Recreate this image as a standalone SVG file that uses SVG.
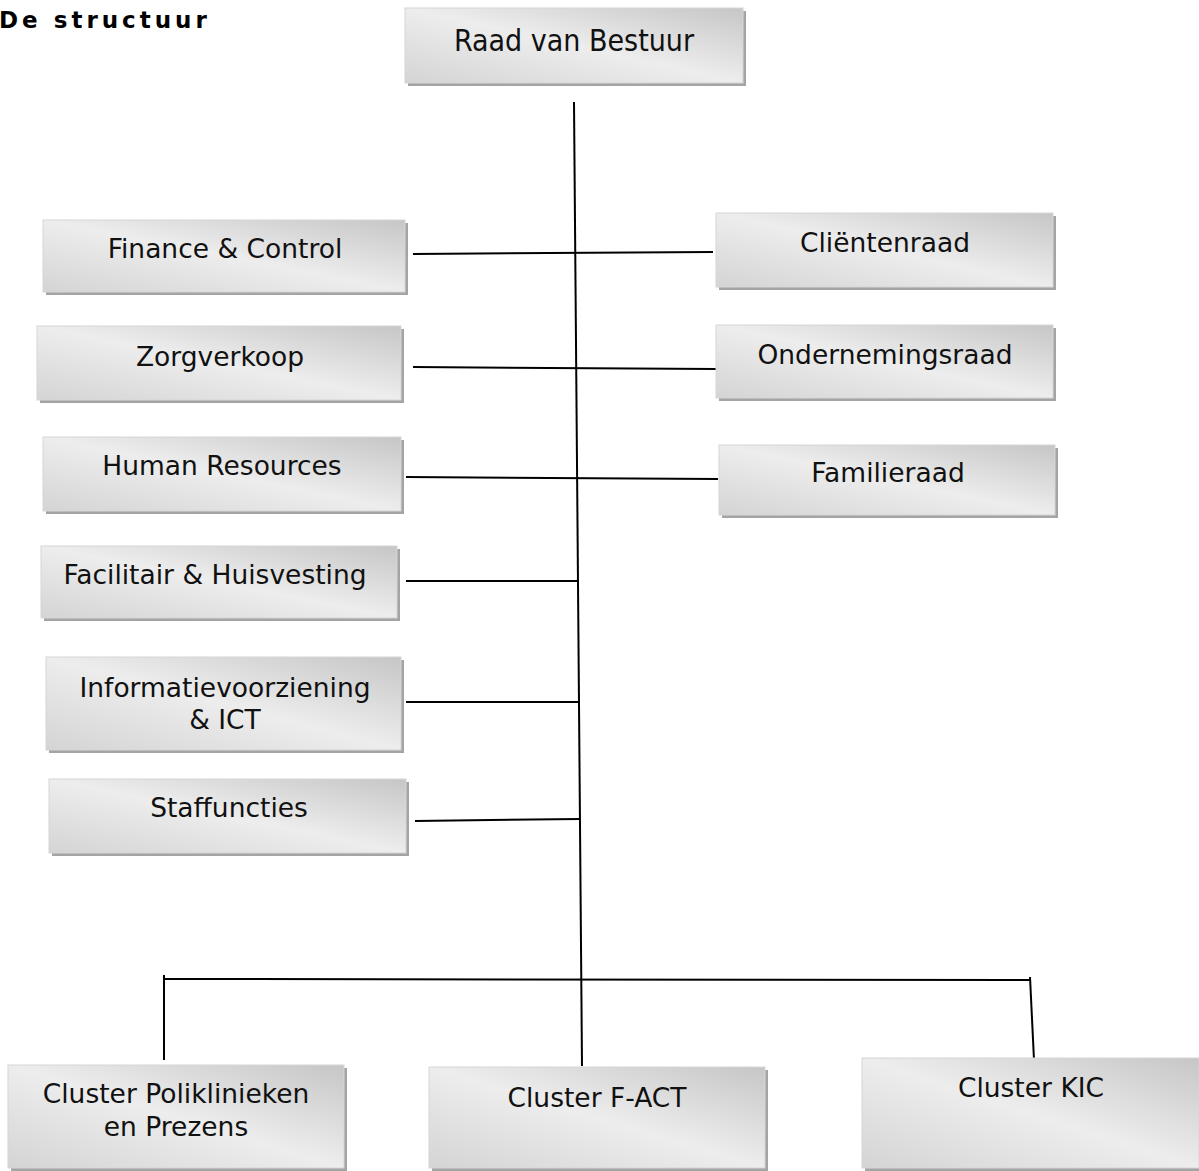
<svg xmlns="http://www.w3.org/2000/svg" width="1199" height="1171" viewBox="0 0 1199 1171">
<defs>
<linearGradient id="g" x1="1" y1="0" x2="0" y2="1">
<stop offset="0" stop-color="#c6c6c6"/>
<stop offset="0.5" stop-color="#ededed"/>
<stop offset="1" stop-color="#d4d4d4"/>
</linearGradient>
</defs>
<style>
.sh{fill:#a4a4a4}
.bx{fill:url(#g);stroke:#d6d6d6;stroke-width:1}
.t{font-family:"DejaVu Sans","Verdana",sans-serif;font-size:26.5px;fill:#111;text-anchor:middle}
.tn{font-family:"Liberation Sans Narrow","DejaVu Sans Condensed",sans-serif;font-size:30px;fill:#111;text-anchor:middle}
.c{stroke:#000;stroke-width:2;fill:none}
</style>
<rect width="1199" height="1171" fill="#fff"/>
<text x="-1" y="28" font-family="DejaVu Sans, Verdana, sans-serif" font-weight="bold" font-size="23" letter-spacing="4" fill="#000">De structuur</text>
<g id="connectors">
<line class="c" x1="574" y1="102" x2="582" y2="1066"/>
<line class="c" x1="413" y1="254" x2="713" y2="252"/>
<line class="c" x1="413" y1="367" x2="716" y2="369"/>
<line class="c" x1="406" y1="477" x2="718" y2="479"/>
<line class="c" x1="406" y1="581" x2="578" y2="581"/>
<line class="c" x1="406" y1="702" x2="579" y2="702"/>
<line class="c" x1="415" y1="821" x2="580" y2="819"/>
<line class="c" x1="164" y1="979" x2="1030" y2="980"/>
<line class="c" x1="164" y1="975" x2="164" y2="1060"/>
<line class="c" x1="1030" y1="977" x2="1034" y2="1060"/>
</g>
<g id="raad">
<rect class="sh" x="408" y="11" width="338" height="75"/>
<rect class="bx" x="405" y="8" width="338" height="75"/>
<text class="tn" x="574" y="51">Raad van Bestuur</text>
</g>
<g id="finance">
<rect class="sh" x="46" y="223" width="362" height="72"/>
<rect class="bx" x="43" y="220" width="362" height="72"/>
<text class="t" x="225" y="258">Finance &amp; Control</text>
</g>
<g id="clientenraad">
<rect class="sh" x="719" y="216" width="337" height="74"/>
<rect class="bx" x="716" y="213" width="337" height="74"/>
<text class="t" x="885" y="252">Cliëntenraad</text>
</g>
<g id="zorgverkoop">
<rect class="sh" x="40" y="329" width="364" height="74"/>
<rect class="bx" x="37" y="326" width="364" height="74"/>
<text class="t" x="220" y="366">Zorgverkoop</text>
</g>
<g id="ondernemingsraad">
<rect class="sh" x="719" y="328" width="337" height="73"/>
<rect class="bx" x="716" y="325" width="337" height="73"/>
<text class="t" x="885" y="364">Ondernemingsraad</text>
</g>
<g id="hr">
<rect class="sh" x="46" y="440" width="358" height="74"/>
<rect class="bx" x="43" y="437" width="358" height="74"/>
<text class="t" x="222" y="475">Human Resources</text>
</g>
<g id="familieraad">
<rect class="sh" x="722" y="448" width="336" height="70"/>
<rect class="bx" x="719" y="445" width="336" height="70"/>
<text class="t" x="888" y="482">Familieraad</text>
</g>
<g id="facilitair">
<rect class="sh" x="44" y="549" width="356" height="72"/>
<rect class="bx" x="41" y="546" width="356" height="72"/>
<text class="t" x="215" y="584">Facilitair &amp; Huisvesting</text>
</g>
<g id="informatie">
<rect class="sh" x="49" y="660" width="355" height="93"/>
<rect class="bx" x="46" y="657" width="355" height="93"/>
<text class="t" x="225" y="697">Informatievoorziening</text>
<text class="t" x="225" y="729">&amp; ICT</text>
</g>
<g id="staf">
<rect class="sh" x="52" y="782" width="357" height="74"/>
<rect class="bx" x="49" y="779" width="357" height="74"/>
<text class="t" x="229" y="817">Staffuncties</text>
</g>
<g id="cluster-poli">
<rect class="sh" x="11" y="1068" width="336" height="103"/>
<rect class="bx" x="8" y="1065" width="336" height="103"/>
<text class="t" x="176" y="1103">Cluster Poliklinieken</text>
<text class="t" x="176" y="1136">en Prezens</text>
</g>
<g id="cluster-fact">
<rect class="sh" x="432" y="1070" width="336" height="101"/>
<rect class="bx" x="429" y="1067" width="336" height="101"/>
<text class="t" x="597" y="1107">Cluster F-ACT</text>
</g>
<g id="cluster-kic">
<rect class="sh" x="865" y="1061" width="337" height="110"/>
<rect class="bx" x="862" y="1058" width="337" height="110"/>
<text class="t" x="1031" y="1097">Cluster KIC</text>
</g>
</svg>
